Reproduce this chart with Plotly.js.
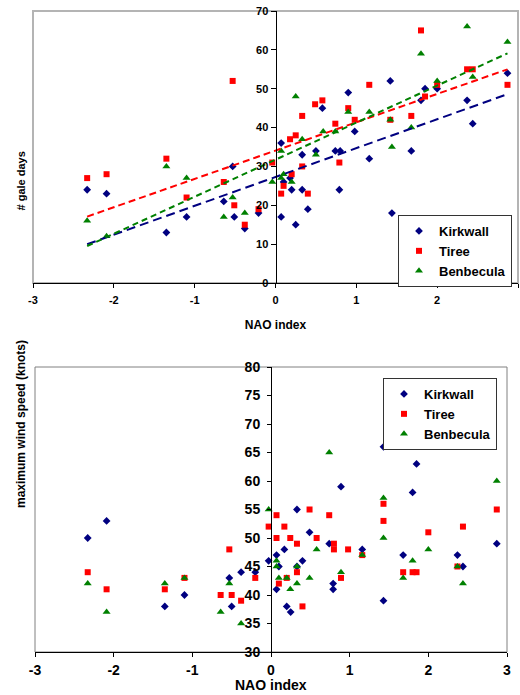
<!DOCTYPE html>
<html><head><meta charset="utf-8">
<script src="https://cdn.plot.ly/plotly-3.0.1.min.js"></script>
<style>html,body{margin:0;padding:0;background:#fff}#chart{width:520px;height:695px}</style>
</head><body><div id="chart"></div>
<script>
// ---- Data: top chart (# gale days vs NAO index) ----
const galeKirkwallX = [-2.33,-2.09,-1.35,-1.10,-0.64,-0.53,-0.51,-0.38,-0.21,0.07,0.10,0.07,0.18,0.20,0.25,0.33,0.33,0.40,0.50,0.58,0.74,0.80,0.79,0.90,0.98,1.16,1.42,1.44,1.68,1.80,1.85,2.00,2.37,2.44,2.87];
const galeKirkwallY = [24,23,13,17,21,30,17,14,18,36,26,17,27,24,15,33,24,19,34,45,34,34,24,49,39,32,52,18,34,47,50,50,47,41,54];
const galeTireeX = [-2.33,-2.09,-1.35,-1.10,-0.64,-0.53,-0.51,-0.38,-0.21,-0.04,0.07,0.10,0.18,0.20,0.25,0.33,0.33,0.40,0.49,0.58,0.74,0.79,0.90,0.98,1.16,1.42,1.68,1.80,1.85,2.00,2.37,2.44,2.87];
const galeTireeY = [27,28,32,22,26,52,20,15,19,31,23,25,37,28,38,43,30,23,46,47,41,31,45,42,51,42,43,65,48,51,55,55,51];
const galeBenbeculaX = [-2.33,-2.09,-1.35,-1.10,-0.64,-0.53,-0.38,-0.04,0.07,0.07,0.10,0.20,0.25,0.33,0.50,0.59,0.74,0.90,1.16,1.42,1.44,1.68,1.80,2.00,2.37,2.44,2.87];
const galeBenbeculaY = [16,12,30,27,17,22,18,26,34,27,28,26,48,37,33,39,39,44,44,42,35,40,59,52,66,53,62];

// ---- Data: bottom chart (maximum wind speed vs NAO index) ----
const windKirkwallX = [-2.33,-2.09,-1.35,-1.10,-0.53,-0.50,-0.38,-0.20,-0.03,0.07,0.10,0.07,0.17,0.20,0.25,0.33,0.33,0.40,0.49,0.74,0.79,0.79,0.89,1.16,1.43,1.43,1.68,1.80,1.85,2.37,2.44,2.87];
const windKirkwallY = [50,53,38,40,43,38,44,44,46,47,45,41,48,38,37,55,45,46,51,49,42,41,59,48,66,39,47,58,63,47,45,49];
const windTireeX = [-2.33,-2.09,-1.35,-1.10,-0.64,-0.53,-0.50,-0.38,-0.20,-0.03,0.07,0.07,0.10,0.17,0.20,0.245,0.33,0.33,0.40,0.49,0.58,0.74,0.80,0.80,0.89,0.98,1.16,1.43,1.43,1.68,1.80,1.85,2.00,2.37,2.44,2.87];
const windTireeY = [44,41,41,43,40,48,40,39,43,52,54,50,42,52,43,50,49,44,38,55,50,54,49,48,43,48,47,56,53,44,44,44,51,45,52,55];
const windBenbeculaX = [-2.33,-2.09,-1.35,-1.10,-0.64,-0.53,-0.38,-0.03,0.07,0.07,0.10,0.20,0.245,0.33,0.33,0.49,0.58,0.74,0.89,1.16,1.43,1.43,1.68,1.80,2.00,2.37,2.44,2.87];
const windBenbeculaY = [42,37,42,43,37,42,35,55,46,45,43,43,41,45,42,43,48,65,44,47,57,50,43,46,48,45,42,60];

const seriesNames = ['Kirkwall','Tiree','Benbecula'];
const xTickVals = [-3,-2,-1,0,1,2,3];
const xTickText = ['-3','-2','-1','0','1','2','3'];
const galeTickVals = [0,10,20,30,40,50,60,70];
const windTickVals = [30,35,40,45,50,55,60,65,70,75,80];
const titles = {galeY:'# gale days', windY:'maximum wind speed (knots)', x:'NAO index'};

// ---- styles ----
const colors = ['#000080','#ff0000','#008000'];
const symbols = ['diamond','square','triangle-up'];
const sizes = [6,6,7];
const dashes = ['9px,5px','7px,4px','6px,4px'];
const FONT = 'Liberation Sans, Arial, sans-serif';

function linreg(xs, ys){
  const n = xs.length; let sx=0, sy=0, sxx=0, sxy=0;
  for(let i=0;i<n;i++){sx+=xs[i];sy+=ys[i];sxx+=xs[i]*xs[i];sxy+=xs[i]*ys[i];}
  const b=(n*sxy-sx*sy)/(n*sxx-sx*sx); const a=(sy-b*sx)/n; return {a,b};
}

const galeX=[galeKirkwallX,galeTireeX,galeBenbeculaX], galeY=[galeKirkwallY,galeTireeY,galeBenbeculaY];
const windX=[windKirkwallX,windTireeX,windBenbeculaX], windY=[windKirkwallY,windTireeY,windBenbeculaY];

const traces=[];
for(let i=0;i<3;i++){
  traces.push({type:'scatter',mode:'markers',x:galeX[i],y:galeY[i],name:seriesNames[i],xaxis:'x',yaxis:'y',legend:'legend',
    marker:{color:colors[i],symbol:symbols[i],size:sizes[i]},hoverinfo:'x+y'});
}
for(let i=0;i<3;i++){
  const r=linreg(galeX[i],galeY[i]);
  const xmin=Math.min(...galeX[i]), xmax=Math.max(...galeX[i]);
  traces.push({type:'scatter',mode:'lines',x:[xmin,xmax],y:[r.a+r.b*xmin,r.a+r.b*xmax],xaxis:'x',yaxis:'y',showlegend:false,
    line:{color:colors[i],width:2,dash:dashes[i]},hoverinfo:'skip'});
}
for(let i=0;i<3;i++){
  traces.push({type:'scatter',mode:'markers',x:windX[i],y:windY[i],name:seriesNames[i],xaxis:'x2',yaxis:'y2',legend:'legend2',
    marker:{color:colors[i],symbol:symbols[i],size:sizes[i]},hoverinfo:'x+y'});
}

const W=520,H=695;
const xd1=[33/W,518/W], yd1=[1-283/H,1-11/H];
const xd2=[35/W,507/W], yd2=[1-652/H,1-367/H];
const zeroPos=(d)=>d[0]+(0-(-3))/6*(d[1]-d[0]);

const tf=(s)=>({family:FONT,size:s,color:'#000',weight:'bold'});
const layout={
  width:W,height:H,margin:{l:0,r:0,t:0,b:0},paper_bgcolor:'#fff',plot_bgcolor:'#fff',
  font:{family:FONT},
  xaxis:{domain:xd1,range:[-3,3],anchor:'y',tickvals:xTickVals,ticktext:xTickText,showline:true,linecolor:'#000',linewidth:1,
    ticks:'outside',ticklen:4,tickcolor:'#000',showgrid:false,zeroline:false,tickfont:tf(11),ticklabelstandoff:3,
    title:{text:titles.x,font:tf(12),standoff:15}},
  yaxis:{domain:yd1,range:[0,70],anchor:'free',position:zeroPos(xd1),tickvals:galeTickVals,showline:true,linecolor:'#000',linewidth:1,
    ticks:'outside',ticklen:5,tickcolor:'#000',showgrid:false,zeroline:false,tickfont:tf(11)},
  xaxis2:{domain:xd2,range:[-3,3],anchor:'y2',tickvals:xTickVals,ticktext:xTickText,showline:true,linecolor:'#000',linewidth:1,
    ticks:'outside',ticklen:4,tickcolor:'#000',showgrid:false,zeroline:false,tickfont:tf(14),ticklabelstandoff:1},
  yaxis2:{domain:yd2,range:[30,80],anchor:'free',position:zeroPos(xd2),tickvals:windTickVals,showline:true,linecolor:'#000',linewidth:1,
    ticks:'outside',ticklen:4,tickcolor:'#000',showgrid:false,zeroline:false,tickfont:tf(14),ticklabelstandoff:4},
  legend:{x:512/W,xanchor:'right',y:1-215/H,yanchor:'top',bgcolor:'#fff',bordercolor:'#333',borderwidth:1,
    font:tf(13),tracegroupgap:0,itemwidth:30},
  legend2:{x:497/W,xanchor:'right',y:1-378/H,yanchor:'top',bgcolor:'#fff',bordercolor:'#333',borderwidth:1,
    font:tf(13),tracegroupgap:0,itemwidth:30},
  shapes:[
    {type:'rect',xref:'x domain',yref:'y domain',x0:0,x1:1,y0:0,y1:1,line:{color:'#b4b4b4',width:2},layer:'below'},
    {type:'rect',xref:'x2 domain',yref:'y2 domain',x0:0,x1:1,y0:0,y1:1,line:{color:'#808080',width:1},layer:'below'}
  ],
  annotations:[
    {text:titles.galeY,xref:'paper',yref:'paper',x:12/W,y:1-150/H,textangle:-90,showarrow:false,font:tf(11)},
    {text:titles.windY,xref:'paper',yref:'paper',x:12/W,y:1-510/H,textangle:-90,showarrow:false,font:tf(12)},
    {text:titles.x,xref:'paper',yref:'paper',x:(xd2[0]+xd2[1])/2,y:0,yanchor:'bottom',showarrow:false,font:tf(14)}
  ],
  showlegend:true
};
Plotly.newPlot('chart',traces,layout,{staticPlot:true,displayModeBar:false});
</script></body></html>
